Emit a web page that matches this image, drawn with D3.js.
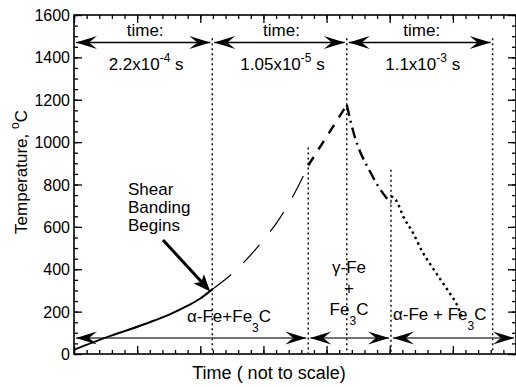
<!DOCTYPE html>
<html><head><meta charset="utf-8">
<script src="https://cdn.jsdelivr.net/npm/d3@7"></script>
<style>
html,body{margin:0;padding:0;background:#fff;}
svg text{font-family:"Liberation Sans",Arial,Helvetica,sans-serif;fill:#000;}
</style></head>
<body><svg id="c" width="516" height="387"></svg>
<script>
// ---- data (x in arbitrary time units 0..7, y in °C) ----
const yMajorTicks = [0,200,400,600,800,1000,1200,1400,1600];
const yMinorTicks = d3.range(0,1601,50);
const xMajorTicks = [0,1,2,3,4,5,6,7];
const xMinorTicks = d3.range(0,7.01,0.2);

const solidSegment   = [[0,20],[0.3,55],[0.6,88],[0.9,118],[1.2,150],[1.5,185],[1.8,228],[2.0,262],[2.19,305]];
const thinDashSegment= [[2.19,305],[2.48,373],[2.92,509],[3.27,646],[3.52,774],[3.71,890]];
const risingSegment  = [[3.71,890],[4.0,1025],[4.32,1175]];
const fallingSegment = [[4.32,1175],[4.43,1042],[4.70,854],[4.94,740],[5.02,712]];
const dottedSegment  = [[5.02,745],[5.10,726],[5.22,646],[5.37,571],[5.52,481],[5.65,420],[5.81,349],[5.97,278],[6.05,241],[6.16,160]];

const boundaryX   = [2.19,3.71,4.32,5.02,6.63];
const boundaryTop = [1490,975,1490,870,1490];

const topArrowY = 1470;
const topSpans  = [[0,2.19],[2.19,4.32],[4.32,6.63]];
const topTimes  = [["2.2x10","-4"],["1.05x10","-5"],["1.1x10","-3"]];
const bottomArrowY = 75;
const bottomSpans  = [[0,3.71],[3.71,5.02],[5.02,7]];

// ---- setup ----
const svg = d3.select("#c");
const L=74, R=516, T=15, B=354;
const x = d3.scaleLinear().domain([0,7]).range([L,R]);
const y = d3.scaleLinear().domain([0,1600]).range([B,T]);

// axes (ticks inward)
svg.append("g").attr("transform",`translate(${L},0)`)
  .call(d3.axisLeft(y).tickValues(yMinorTicks).tickSizeInner(-4).tickSizeOuter(0).tickFormat(""));
svg.append("g").attr("transform",`translate(${L},0)`)
  .call(d3.axisLeft(y).tickValues(yMajorTicks).tickSizeInner(-8).tickSizeOuter(0).tickPadding(4).tickFormat(d3.format("d")))
  .selectAll("text").style("font-size","16px").attr("dy","0.35em");
svg.append("g").attr("transform",`translate(${R},0)`)
  .call(d3.axisRight(y).tickValues(yMinorTicks).tickSizeInner(-4).tickSizeOuter(0).tickFormat(""));
svg.append("g").attr("transform",`translate(${R},0)`)
  .call(d3.axisRight(y).tickValues(yMajorTicks).tickSizeInner(-8).tickSizeOuter(0).tickFormat(""));
svg.append("g").attr("transform",`translate(0,${B})`)
  .call(d3.axisBottom(x).tickValues(xMinorTicks).tickSizeInner(-4).tickSizeOuter(0).tickFormat(""));
svg.append("g").attr("transform",`translate(0,${B})`)
  .call(d3.axisBottom(x).tickValues(xMajorTicks).tickSizeInner(-8).tickSizeOuter(0).tickFormat(""));
svg.append("g").attr("transform",`translate(0,${T})`)
  .call(d3.axisTop(x).tickValues(xMinorTicks).tickSizeInner(-4).tickSizeOuter(0).tickFormat(""));
svg.append("g").attr("transform",`translate(0,${T})`)
  .call(d3.axisTop(x).tickValues(xMajorTicks).tickSizeInner(-8).tickSizeOuter(0).tickFormat(""));
svg.selectAll(".domain").remove();
svg.selectAll(".tick line").attr("stroke","#000").attr("stroke-width",1.3);
svg.append("rect").attr("x",L).attr("y",T).attr("width",R-L).attr("height",B-T)
  .attr("fill","none").attr("stroke","#000").attr("stroke-width",1.6);

// boundary dotted lines
svg.append("g").selectAll("line").data(boundaryX).join("line")
  .attr("x1",d=>x(d)).attr("x2",d=>x(d))
  .attr("y1",(d,i)=>y(boundaryTop[i])).attr("y2",y(0))
  .attr("stroke","#111").attr("stroke-width",1.5).attr("stroke-dasharray","2,3");

// arrowheads
function head(g, tx, ty, dir){ // dir = +1 pointing right, -1 pointing left
  const p = d3.path();
  p.moveTo(tx,ty);
  p.lineTo(tx-dir*21,ty-6.5);
  p.lineTo(tx-dir*13,ty);
  p.lineTo(tx-dir*21,ty+6.5);
  p.closePath();
  g.append("path").attr("d",p.toString()).attr("fill","#000");
}
function spanArrows(spans, yv, col){
  const g = svg.append("g");
  spans.forEach(s=>{
    g.append("line").attr("x1",x(s[0])+2).attr("x2",x(s[1])-2)
      .attr("y1",y(yv)).attr("y2",y(yv)).attr("stroke",col).attr("stroke-width",1.5);
    head(g, x(s[0])+2, y(yv), -1);
    head(g, x(s[1])-2, y(yv), 1);
  });
}
spanArrows(topSpans, topArrowY, "#000");
spanArrows(bottomSpans, bottomArrowY, "#444");

// curves
const line = d3.line().x(d=>x(d[0])).y(d=>y(d[1])).curve(d3.curveMonotoneX);
const curves = svg.append("g").attr("fill","none").attr("stroke","#000").attr("stroke-linecap","butt");
curves.append("path").datum(solidSegment).attr("d",line).attr("stroke-width",2);
curves.append("path").datum(thinDashSegment).attr("d",line).attr("stroke-width",1.2).attr("stroke-dasharray","24,17");
curves.append("path").datum(risingSegment).attr("d",line).attr("stroke-width",2.4).attr("stroke-dasharray","10,9");
curves.append("path").datum(fallingSegment).attr("d",line).attr("stroke-width",2.4).attr("stroke-dasharray","11,5,2,5");
curves.append("path").datum(dottedSegment).attr("d",line).attr("stroke-width",2.4).attr("stroke-dasharray","2.5,3.5");

// top time labels
topSpans.forEach((s,i)=>{
  const cx = (x(s[0])+x(s[1]))/2;
  svg.append("text").attr("x",cx+2).attr("y",36).attr("text-anchor","middle")
    .style("font-size","17px").text("time:");
  const t = svg.append("text").attr("x",cx+3).attr("y",70).attr("text-anchor","middle").style("font-size","17px");
  t.append("tspan").text(topTimes[i][0]);
  t.append("tspan").attr("dy",-8).style("font-size","12px").text(topTimes[i][1]);
  t.append("tspan").attr("dy",8).text(" s");
});

// axis titles
svg.append("text").attr("transform","translate(27,172) rotate(-90)").attr("text-anchor","middle")
  .style("font-size","17px")
  .call(t=>{t.append("tspan").text("Temperature, ");
            t.append("tspan").attr("dy",-8).style("font-size","12px").text("o");
            t.append("tspan").attr("dy",8).text("C");});
svg.append("text").attr("x",269).attr("y",379).attr("text-anchor","middle").style("font-size","18px")
  .text("Time ( not to scale)");

// Shear banding annotation
["Shear","Banding","Begins"].forEach((s,i)=>{
  svg.append("text").attr("x",128).attr("y",195+i*18).style("font-size","17px").text(s);
});
const sx0=163, sy0=240, sx1=x(solidSegment[solidSegment.length-1][0])-2, sy1=y(solidSegment[solidSegment.length-1][1])+2;
const ang = Math.atan2(sy1-sy0, sx1-sx0);
svg.append("line").attr("x1",sx0).attr("y1",sy0)
  .attr("x2",sx1-Math.cos(ang)*12).attr("y2",sy1-Math.sin(ang)*12)
  .attr("stroke","#000").attr("stroke-width",3);
svg.append("path").attr("fill","#000")
  .attr("transform",`translate(${sx1},${sy1}) rotate(${ang*180/Math.PI})`)
  .attr("d","M0,0 L-17,-7 L-13,0 L-17,7 Z");

// phase labels
function phase(xp, yp, anchor, parts){
  const t = svg.append("text").attr("x",xp).attr("y",yp).attr("text-anchor",anchor).style("font-size","17px");
  parts.forEach(p=>{
    const ts = t.append("tspan").text(p[0]);
    if(p[1]) ts.attr("dy",p[1]);
    if(p[2]) ts.style("font-size",p[2]);
  });
}
phase(187,322,"start",[["α-Fe+Fe"],["3",10,"12px"],["C",-10]]);
phase(349,273,"middle",[["γ-Fe"]]);
phase(349,294,"middle",[["+"]]);
phase(349,315,"middle",[["Fe"],["3",10,"12px"],["C",-10]]);
phase(393,320,"start",[["α-Fe + Fe"],["3",10,"12px"],["C",-10]]);
</script></body></html>
